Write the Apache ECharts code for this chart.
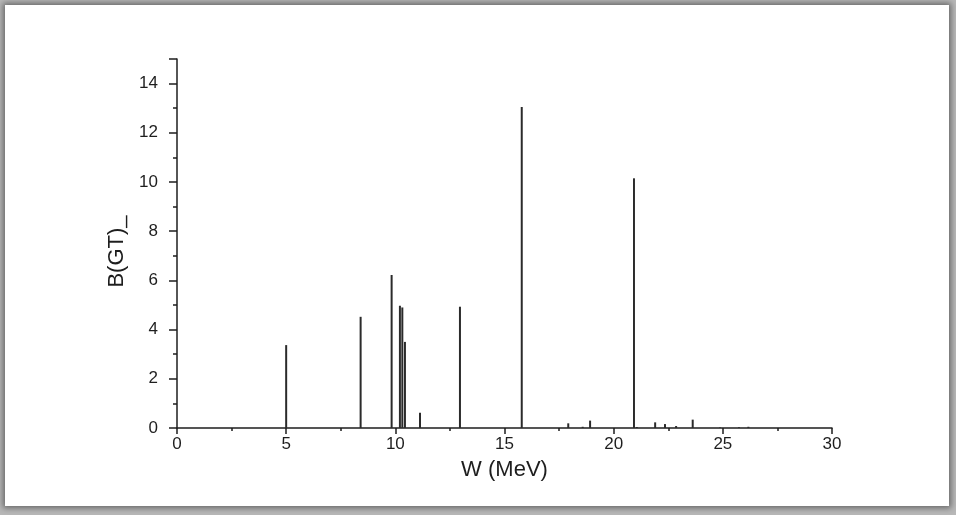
<!DOCTYPE html>
<html>
<head>
<meta charset="utf-8">
<script src="https://cdn.jsdelivr.net/npm/echarts@6/dist/echarts.min.js"></script>
<style>
  html, body { margin: 0; padding: 0; width: 956px; height: 515px; overflow: hidden; background: #b8b8b8; }
  #frame {
    position: absolute; left: 5px; top: 5px; width: 944px; height: 501px;
    background: #fff;
    box-shadow: 0 0 6px 2px rgba(0,0,0,0.45);
  }
  #chart { position: absolute; left: -5px; top: -5px; width: 956px; height: 515px; }
</style>
</head>
<body>
<div id="frame"><div id="chart"></div></div>
<script>
// Gamow-Teller strength distribution: excitation energy W (MeV) vs B(GT)-
const energies  = [5.00, 8.41, 9.83, 10.21, 10.32, 10.44, 11.13, 12.96, 15.79, 17.92, 18.58, 18.92,
                   20.93, 21.06, 21.90, 22.35, 22.86, 23.62, 24.87, 25.74, 26.17];
const strengths = [3.37, 4.52, 6.22, 4.97, 4.90, 3.50, 0.62, 4.93, 13.05, 0.19, 0.05, 0.30,
                   10.15, 0.04, 0.23, 0.16, 0.08, 0.34, 0.02, 0.03, 0.05];
const xTitle = 'W (MeV)';
const yTitle = 'B(GT)_';

const font = '"Liberation Sans", Arial, sans-serif';
const ink = '#1e1e1e';

const chart = echarts.init(document.getElementById('chart'), null, { renderer: 'canvas' });
chart.setOption({
  animation: false,
  backgroundColor: 'transparent',
  grid: { left: 177, right: 124, top: 59, bottom: 87, containLabel: false },
  xAxis: {
    type: 'value', min: 0, max: 30, interval: 5,
    name: xTitle, nameLocation: 'middle', nameGap: 31,
    nameTextStyle: { fontFamily: font, fontSize: 22, color: ink },
    axisLine: { show: true, onZero: false, lineStyle: { color: ink, width: 1.5 } },
    axisTick: { show: true, inside: false, length: 6, lineStyle: { color: ink, width: 1.5 } },
    minorTick: { show: true, splitNumber: 2, length: 3, lineStyle: { color: ink, width: 1.5 } },
    axisLabel: { fontFamily: font, fontSize: 17, color: ink, margin: 8 },
    splitLine: { show: false }
  },
  yAxis: {
    type: 'value', min: 0, max: 15, interval: 2,
    name: yTitle, nameLocation: 'middle', nameGap: 47, nameRotate: 90,
    nameTextStyle: { fontFamily: font, fontSize: 22, color: ink, padding: [0, 16, 0, 0] },
    axisLine: { show: true, onZero: false, lineStyle: { color: ink, width: 1.5 } },
    axisTick: { show: true, inside: false, length: 8, lineStyle: { color: ink, width: 1.5 } },
    minorTick: { show: true, splitNumber: 2, length: 4, lineStyle: { color: ink, width: 1.5 } },
    axisLabel: { fontFamily: font, fontSize: 17, color: ink, margin: 19, showMaxLabel: false },
    splitLine: { show: false }
  },
  series: [{
    type: 'bar',
    barWidth: 2,
    itemStyle: { color: '#2b2b2b' },
    data: energies.map((e, i) => [e, strengths[i]])
  }]
});
</script>
</body>
</html>
